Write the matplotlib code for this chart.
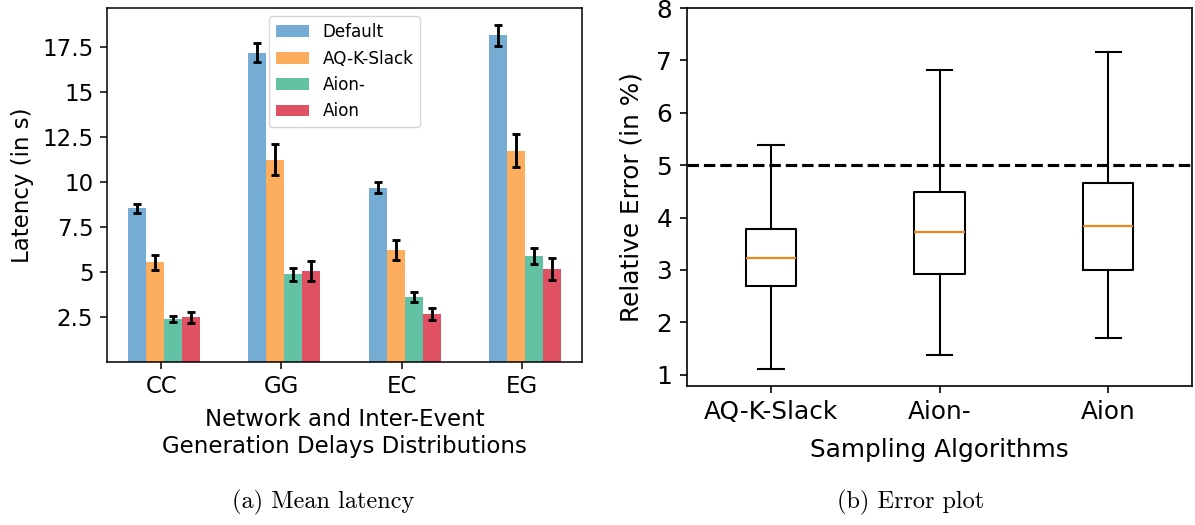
import matplotlib
matplotlib.use("Agg")
import matplotlib.pyplot as plt
import numpy as np

# ---- data: left panel (mean latency) ----
groups = ["CC", "GG", "EC", "EG"]
series = ["Default", "AQ-K-Slack", "Aion-", "Aion"]
default_mean = [8.54, 17.20, 9.70, 18.17]
default_err = [0.27, 0.53, 0.29, 0.58]
aqk_mean = [5.54, 11.26, 6.22, 11.76]
aqk_err = [0.43, 0.88, 0.54, 0.94]
aionm_mean = [2.37, 4.87, 3.61, 5.89]
aionm_err = [0.16, 0.34, 0.26, 0.43]
aion_mean = [2.48, 5.04, 2.67, 5.17]
aion_err = [0.31, 0.56, 0.31, 0.61]
left_yticks = [2.5, 5, 7.5, 10, 12.5, 15, 17.5]
left_yticklabels = ["2.5", "5", "7.5", "10", "12.5", "15", "17.5"]

# ---- data: right panel (error box plot) ----
algos = ["AQ-K-Slack", "Aion-", "Aion"]
whislo = [1.10, 1.38, 1.71]
q1 = [2.70, 2.93, 3.00]
med = [3.23, 3.72, 3.83]
q3 = [3.78, 4.49, 4.66]
whishi = [5.38, 6.81, 7.16]
threshold = 5
right_yticks = [1, 2, 3, 4, 5, 6, 7, 8]

colors = ["#75acd3", "#fdad5e", "#64c2a4", "#e05263"]

fig = plt.figure(figsize=(11.95, 5.25), dpi=100)

# ---------------- left panel ----------------
sL = 1.91 * 0.72  # scale from original pt to pt at 100 dpi
axL = fig.add_axes([0.0893, 0.3105, 0.398, 0.6743])
x = np.arange(len(groups))
w = 0.15
means = [default_mean, aqk_mean, aionm_mean, aion_mean]
errs = [default_err, aqk_err, aionm_err, aion_err]
offsets = [-0.2, -0.05, 0.10, 0.25]
for i in range(4):
    axL.bar(x + offsets[i], means[i], w, yerr=errs[i], color=colors[i],
            label=series[i], error_kw=dict(elinewidth=1.5 * sL, capsize=2.0 * sL,
                                           capthick=1.5 * sL, ecolor="black"))
axL.set_xticks(x)
axL.set_xticklabels(groups, fontsize=16.5)
axL.set_yticks(left_yticks)
axL.set_yticklabels(left_yticklabels, fontsize=16.5)
axL.set_ylabel("Latency (in s)", fontsize=16.5, labelpad=4 * sL)
axL.set_xlabel("Network and Inter-Event\nGeneration Delays Distributions",
               fontsize=16.5, labelpad=5 * sL)
axL.tick_params(length=3.5 * sL, width=0.8 * sL, pad=3.5 * sL)
for sp in axL.spines.values():
    sp.set_linewidth(0.8 * sL)
axL.legend(loc="upper center", fontsize=12.1, frameon=True)

# ---------------- right panel ----------------
sR = 2.06 * 0.72
axR = fig.add_axes([0.5745, 0.2653, 0.4234, 0.7194])
stats = []
for i in range(3):
    stats.append(dict(label=algos[i], whislo=whislo[i], q1=q1[i], med=med[i],
                      q3=q3[i], whishi=whishi[i], fliers=[]))
axR.bxp(stats, positions=[1, 2, 3], widths=0.3, showfliers=False,
        boxprops=dict(linewidth=1.0 * sR, color="black"),
        whiskerprops=dict(linewidth=1.0 * sR, color="black"),
        capprops=dict(linewidth=1.0 * sR, color="black"),
        medianprops=dict(linewidth=1.0 * sR, color="#ff7f0e"))
axR.axhline(threshold, color="black", linestyle="--", linewidth=1.5 * sR)
axR.set_xlim(0.5, 3.5)
axR.set_ylim(0.79, 8)
axR.set_yticks(right_yticks)
axR.set_yticklabels([str(v) for v in right_yticks], fontsize=17.8)
axR.set_xticks([1, 2, 3])
axR.set_xticklabels(algos, fontsize=17.8)
axR.set_ylabel("Relative Error (in %)", fontsize=17.8, labelpad=6 * sR)
axR.set_xlabel("Sampling Algorithms", fontsize=17.8, labelpad=6.5 * sR)
axR.tick_params(length=3.5 * sR, width=0.8 * sR, pad=3.5 * sR)
for sp in axR.spines.values():
    sp.set_linewidth(0.8 * sR)

# ---------------- captions ----------------
fig.text(323 / 1195, 1 - 502.5 / 525, "(a) Mean latency", family="cmr10",
         fontsize=17.5, ha="center", va="center")
fig.text(911 / 1195, 1 - 502.5 / 525, "(b) Error plot", family="cmr10",
         fontsize=17.5, ha="center", va="center")

fig.savefig("out.png", dpi=100)
